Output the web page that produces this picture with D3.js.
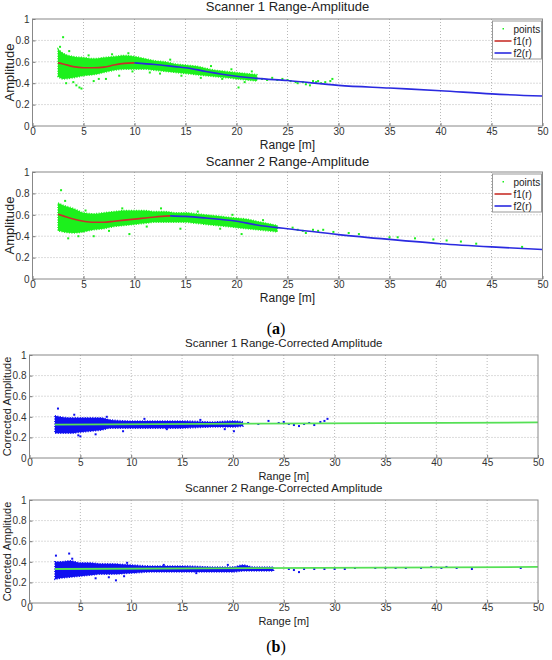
<!DOCTYPE html>
<html lang="en">
<head>
  <meta charset="UTF-8">
  <title>Range-Amplitude</title>
  <script src="https://d3js.org/d3.v7.min.js"></script>
  <style>
    body { margin: 0; background: #fff; }
    text { font-family: "Liberation Sans", Arial, sans-serif; }
  </style>
</head>
<body>
<script>
  // ---- data ----
  const rangeTicks = [0, 5, 10, 15, 20, 25, 30, 35, 40, 45, 50];
  const ampTicks = [0, 0.2, 0.4, 0.6, 0.8, 1];

  // scanner 1, raw amplitude: dense cloud envelope [r, low, high]
  const s1Cloud = [
    [2.5, .46, .72], [3, .44, .68], [4, .45, .65], [5, .47, .64], [6, .48, .63],
    [7, .50, .64], [8, .52, .65], [9, .53, .66], [10, .53, .65], [11, .53, .63],
    [12, .52, .61], [13, .51, .60], [14, .50, .58], [15, .49, .57], [16, .48, .56],
    [17, .47, .54], [18, .46, .52], [19, .45, .51], [20, .44, .50], [21, .43, .49], [22, .42, .48]
  ];
  const s1Points = [
    [3.0, .83], [3.3, .40], [4.0, .41], [4.3, .38], [4.6, .36], [4.8, .35], [6.0, .42],
    [2.7, .74], [3.6, .70], [5.5, .66], [6.5, .44], [7.2, .44], [7.8, .67], [8.5, .47],
    [9.4, .68], [9.8, .51], [11.5, .50], [12.5, .49], [13.5, .62], [14.6, .47], [16.5, .45],
    [17.5, .56], [18.6, .44], [19.5, .53], [20.2, .36], [20.8, .41], [21.5, .51],
    [22.5, .44], [23, .43], [23.5, .45], [24, .43], [24.5, .44], [25, .43], [25.3, .42],
    [25.8, .41], [26, .40], [26.5, .41], [26.8, .39], [27.2, .38], [27.5, .42], [27.8, .41],
    [28, .42], [28.3, .40], [28.7, .41], [29.2, .42], [29.4, .44]
  ];
  const s1F1 = [[2.5, .59], [3, .58], [4, .555], [5, .545], [6, .545], [7, .55], [8, .57], [9, .585], [10, .59]];
  const s1F2 = [[10, .59], [12, .575], [14, .555], [15, .545], [17, .51], [20, .465], [22, .445],
    [25, .425], [30, .38], [35, .355], [40, .33], [45, .30], [50, .28]];

  // scanner 2, raw amplitude
  const s2Cloud = [
    [2.5, .45, .71], [3, .44, .69], [4, .43, .66], [5, .44, .62], [6, .46, .61], [7, .47, .62],
    [8, .49, .63], [9, .50, .64], [10, .51, .64], [11, .52, .64], [12, .53, .63], [13, .53, .63],
    [14, .53, .62], [15, .53, .62], [16, .52, .61], [17, .51, .60], [18, .50, .59], [19, .49, .58],
    [20, .48, .57], [21, .47, .56], [22, .46, .54], [23, .45, .52], [24, .44, .50]
  ];
  const s2Points = [
    [2.8, .83], [3.5, .38], [4.5, .40], [6.0, .40], [3.2, .73], [5.2, .64], [7.5, .45],
    [8.8, .66], [9.5, .42], [11.2, .49], [12.6, .66], [14.5, .47], [16.2, .63], [18.4, .47],
    [19.6, .60], [20.5, .42], [22.6, .55], [23.4, .47],
    [25.5, .48], [26, .46], [26.5, .45], [26.8, .43], [27.5, .46], [28, .45], [28.5, .46],
    [29.5, .44], [31, .43], [32, .42], [35, .39], [35.8, .39], [37.5, .38], [39.3, .37],
    [40.6, .36], [42, .35], [43.5, .33], [48, .30]
  ];
  const s2F1 = [[2.5, .605], [3, .59], [4, .56], [5, .54], [6, .53], [7, .53], [8, .54], [10, .56], [12, .58], [13.5, .59]];
  const s2F2 = [[13.5, .59], [15, .585], [17, .57], [20, .54], [22, .505], [24, .48], [25, .47],
    [30, .415], [35, .37], [40, .33], [45, .30], [50, .275]];

  // corrected amplitude
  const c1Cloud = [
    [2.5, .24, .41], [3, .24, .40], [4, .24, .39], [5, .25, .39], [6, .26, .39], [7, .27, .39],
    [8, .29, .37], [10, .29, .36], [12, .29, .36], [15, .29, .36], [18, .30, .35], [20, .30, .36], [21, .31, .35]
  ];
  const c1Points = [
    [2.8, .48], [4.8, .22], [5.0, .21], [6.5, .23], [9.2, .26], [13.5, .28], [20.1, .26],
    [4.4, .42], [7.6, .40], [11.3, .38], [16.8, .37], [19.2, .28],
    [21.5, .34], [22.5, .33], [23.5, .36], [24.5, .34], [25, .35], [25.5, .33], [26, .32],
    [26.5, .31], [27, .33], [27.5, .34], [28, .32], [28.6, .35], [29, .36], [29.3, .38]
  ];
  const c1Fit = [[2.5, .325], [50, .345]];

  const c2Cloud = [
    [2.5, .23, .40], [3, .24, .40], [4, .25, .41], [5, .26, .39], [6, .27, .39], [7, .28, .38],
    [8, .28, .38], [10, .29, .37], [12, .30, .36], [15, .30, .36], [18, .30, .35], [20, .30, .35],
    [21, .31, .37], [22, .31, .35], [24, .31, .35]
  ];
  const c2Points = [
    [2.6, .46], [3.9, .48], [4.2, .43], [6.5, .24], [7.8, .25], [8.5, .22], [9.3, .26], [10.4, .30],
    [9.6, .39], [13.2, .37], [16.4, .29], [19.5, .37],
    [25.5, .33], [26, .32], [26.5, .30], [27, .33], [28, .33], [29, .33], [30, .33], [31, .33],
    [32, .34], [34, .34], [35, .34], [36, .34], [37, .34], [38.5, .34], [39.5, .35], [40.5, .34],
    [41, .35], [42, .34], [43.5, .33], [48.3, .34]
  ];
  const c2Fit = [[2.5, .33], [50, .35]];

  const W = 552, H = 660;
  const svg = d3.select('body').append('svg').attr('width', W).attr('height', H);

  function panel (o) {
    const x = d3.scaleLinear().domain([0, 50]).range([o.left, o.right]);
    const y = d3.scaleLinear().domain([0, 1]).range([o.bottom, o.top]);
    const g = svg.append('g');

    // dotted grid
    g.append('g').selectAll('line').data(rangeTicks.slice(1, -1)).join('line')
      .attr('x1', d => x(d)).attr('x2', d => x(d)).attr('y1', o.top).attr('y2', o.bottom)
      .attr('stroke', '#b8b8b8').attr('stroke-dasharray', '1,2');
    g.append('g').selectAll('line').data(ampTicks.slice(1, -1)).join('line')
      .attr('y1', d => y(d)).attr('y2', d => y(d)).attr('x1', o.left).attr('x2', o.right)
      .attr('stroke', '#b8b8b8').attr('stroke-dasharray', '1,2');

    // point cloud: envelope + single points
    const area = d3.area().curve(d3.curveMonotoneX)
      .x(d => x(d[0])).y0(d => y(d[1])).y1(d => y(d[2]));
    g.append('path').datum(o.cloud).attr('d', area).attr('fill', o.pointColor)
      .attr('stroke', o.pointColor).attr('stroke-width', 1.5).attr('stroke-dasharray', '1,1.5');
    g.append('g').selectAll('rect').data(o.points).join('rect')
      .attr('x', d => x(d[0]) - 1).attr('y', d => y(d[1]) - 1)
      .attr('width', 2).attr('height', 2).attr('fill', o.pointColor);

    const line = d3.line().curve(d3.curveMonotoneX).x(d => x(d[0])).y(d => y(d[1]));
    o.lines.forEach(l => {
      g.append('path').datum(l.data).attr('d', line)
        .attr('fill', 'none').attr('stroke', l.color).attr('stroke-width', l.width || 1.6);
    });

    // axes (matlab style, ticks inside)
    const ax = g.append('g').attr('transform', `translate(0,${o.bottom})`)
      .call(d3.axisBottom(x).tickValues(rangeTicks).tickSizeInner(-3).tickSizeOuter(0).tickPadding(o.pad));
    const ay = g.append('g').attr('transform', `translate(${o.left},0)`)
      .call(d3.axisLeft(y).tickValues(ampTicks).tickFormat(d3.format('~g')).tickSizeInner(-3).tickSizeOuter(0).tickPadding(3));
    [ax, ay].forEach(a => {
      a.select('.domain').remove();
      a.selectAll('line').attr('stroke', '#777');
      a.selectAll('text').attr('fill', '#333').style('font-size', '10px')
        .style('font-family', '"Liberation Sans", Arial, sans-serif');
    });
    g.append('rect').attr('x', o.left).attr('y', o.top)
      .attr('width', o.right - o.left).attr('height', o.bottom - o.top)
      .attr('fill', 'none').attr('stroke', '#888');

    const cx = (o.left + o.right) / 2;
    g.append('text').attr('x', cx).attr('y', o.top - o.titleOff).attr('text-anchor', 'middle')
      .attr('fill', '#222').style('font-size', o.titleSize + 'px').text(o.title);
    g.append('text').attr('x', cx).attr('y', o.bottom + o.xlabOff).attr('text-anchor', 'middle')
      .attr('fill', '#222').style('font-size', o.labSize + 'px').text('Range [m]');
    g.append('text').attr('transform', `translate(${o.ylabX},${(o.top + o.bottom) / 2}) rotate(-90)`)
      .attr('text-anchor', 'middle').attr('fill', '#222').style('font-size', o.ylabSize + 'px').text(o.ylab);

    if (o.legend) {
      const lx = o.right - 50, ly = o.top + 2;
      const lg = g.append('g').attr('transform', `translate(${lx},${ly})`);
      lg.append('rect').attr('width', 49).attr('height', 38).attr('fill', '#fff').attr('stroke', '#999');
      const items = [
        {name: 'points', color: o.pointColor, dot: true},
        {name: 'f1(r)', color: o.lines[0].color},
        {name: 'f2(r)', color: o.lines[1].color}
      ];
      items.forEach((it, i) => {
        const yy = 8 + i * 12;
        if (it.dot) {
          lg.append('rect').attr('x', 10).attr('y', yy - 1).attr('width', 1.5).attr('height', 1.5).attr('fill', it.color);
        } else {
          lg.append('line').attr('x1', 2).attr('x2', 19).attr('y1', yy).attr('y2', yy)
            .attr('stroke', it.color).attr('stroke-width', 1.6);
        }
        lg.append('text').attr('x', 21).attr('y', yy + 3.5).attr('fill', '#222')
          .style('font-size', '10px').text(it.name);
      });
    }
  }

  panel({left: 32.5, right: 542.5, top: 19, bottom: 126, title: 'Scanner 1  Range-Amplitude',
    titleSize: 13, titleOff: 8, labSize: 12, ylabSize: 13, xlabOff: 23, pad: 2, ylab: 'Amplitude', ylabX: 14,
    cloud: s1Cloud, points: s1Points, pointColor: '#1cf01c', legend: true,
    lines: [{data: s1F1, color: '#c8302a'}, {data: s1F2, color: '#2a2ae0'}]});

  panel({left: 32.5, right: 542.5, top: 172, bottom: 279, title: 'Scanner 2  Range-Amplitude',
    titleSize: 13, titleOff: 6, labSize: 12, ylabSize: 13, xlabOff: 23, pad: 2, ylab: 'Amplitude', ylabX: 14,
    cloud: s2Cloud, points: s2Points, pointColor: '#1cf01c', legend: true,
    lines: [{data: s2F1, color: '#c8302a'}, {data: s2F2, color: '#2a2ae0'}]});

  panel({left: 29.5, right: 538, top: 355, bottom: 458, title: 'Scanner 1 Range-Corrected Amplitude',
    titleSize: 11.5, titleOff: 8, labSize: 11, ylabSize: 11, xlabOff: 22, pad: 1, ylab: 'Corrected Amplitude', ylabX: 11,
    cloud: c1Cloud, points: c1Points, pointColor: '#1010f0', legend: false,
    lines: [{data: c1Fit, color: '#55e055', width: 1.8}]});

  panel({left: 29.5, right: 538, top: 500, bottom: 603, title: 'Scanner 2 Range-Corrected Amplitude',
    titleSize: 11.5, titleOff: 8, labSize: 11, ylabSize: 11, xlabOff: 22, pad: 1, ylab: 'Corrected Amplitude', ylabX: 11,
    cloud: c2Cloud, points: c2Points, pointColor: '#1010f0', legend: false,
    lines: [{data: c2Fit, color: '#55e055', width: 1.8}]});

  // sub-figure captions
  [['a', 334], ['b', 652]].forEach(([t, yy]) => {
    const tx = svg.append('text').attr('x', 276).attr('y', yy).attr('text-anchor', 'middle')
      .style('font-family', '"Liberation Serif", "Times New Roman", serif').style('font-size', '16px');
    tx.append('tspan').text('(');
    tx.append('tspan').style('font-weight', 'bold').text(t);
    tx.append('tspan').text(')');
  });
</script>
</body>
</html>
